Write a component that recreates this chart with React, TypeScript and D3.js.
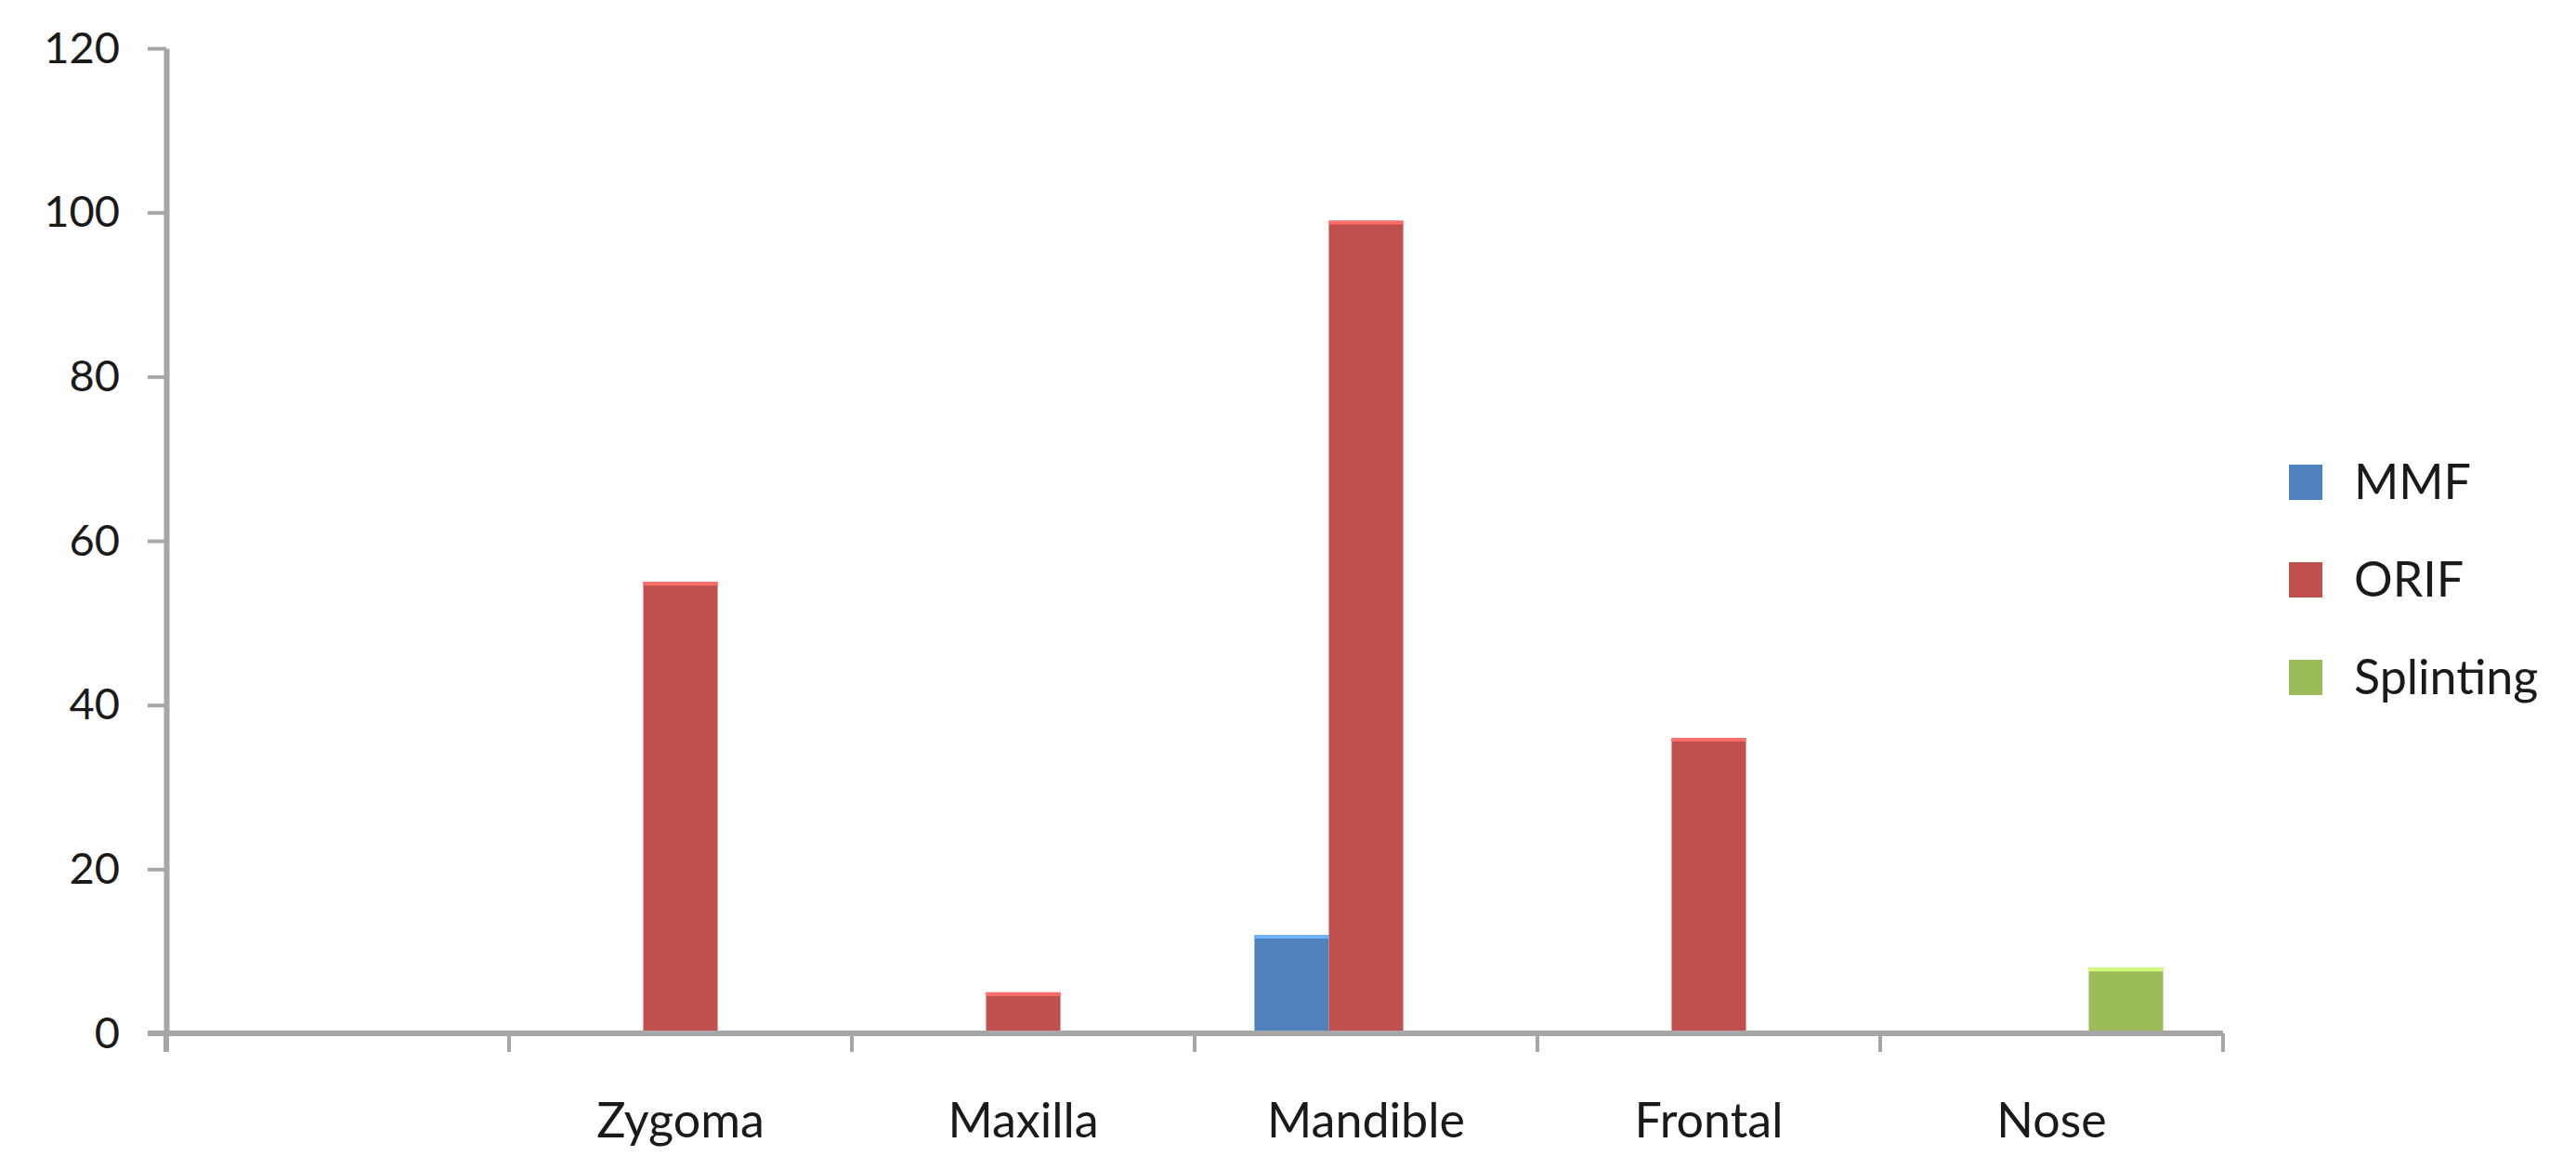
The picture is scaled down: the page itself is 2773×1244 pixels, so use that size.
import React from 'react';
import * as d3 from 'd3';
import { useEffect, useRef } from 'react';

const categories: string[] = ['', 'Zygoma', 'Maxilla', 'Mandible', 'Frontal', 'Nose'];
const seriesNames: string[] = ['MMF', 'ORIF', 'Splinting'];
const mmfValues: number[] = [0, 0, 0, 12, 0, 0];
const orifValues: number[] = [0, 55, 5, 99, 36, 0];
const splintingValues: number[] = [0, 0, 0, 0, 0, 8];
const yTicks: number[] = [0, 20, 40, 60, 80, 100, 120];

const seriesColours: string[] = ['#4F81BD', '#C0504D', '#9BBB59'];

const width = 2773;
const height = 1244;

const App = () => {
    const chartRef = useRef<SVGSVGElement | null>(null);

    useEffect((): void => {
        document.body.style.margin = '0';
        const svg = d3.select(chartRef.current);
        svg.selectAll('*').remove();

        const left = 179;
        const right = 2393;
        const bottom = 1112;
        const top = 52;
        const tickLen = 20;
        const axisColour = '#A6A6A6';
        const font = 'Lato, "Open Sans", sans-serif';

        const allValues = [mmfValues, orifValues, splintingValues];
        const rows = categories.map((c, i) => ({
            category: c,
            values: seriesNames.map((s, j) => ({ series: s, value: allValues[j][i] }))
        }));

        const x0 = d3.scaleBand().domain(categories).range([left, right]).padding(0);
        const bw = x0.bandwidth();
        const step = bw * 0.217;
        const x1 = d3.scaleBand()
            .domain(seriesNames)
            .range([bw / 2 - 1.5 * step, bw / 2 + 1.5 * step])
            .padding(0);
        const y = d3.scaleLinear().domain([0, 120]).range([bottom, top]);
        const colour = d3.scaleOrdinal<string, string>().domain(seriesNames).range(seriesColours);

        // bars
        const groups = svg.append('g')
            .selectAll('g')
            .data(rows)
            .enter()
            .append('g')
            .attr('transform', d => `translate(${x0(d.category)},0)`);

        const bars = groups.selectAll('g.bar')
            .data(d => d.values.filter(v => v.value > 0))
            .enter()
            .append('g')
            .attr('class', 'bar');

        bars.append('rect')
            .attr('x', d => x1(d.series) ?? 0)
            .attr('y', d => y(d.value))
            .attr('width', x1.bandwidth())
            .attr('height', d => bottom - y(d.value))
            .attr('fill', d => colour(d.series));

        bars.append('rect')
            .attr('x', d => x1(d.series) ?? 0)
            .attr('y', d => y(d.value))
            .attr('width', x1.bandwidth())
            .attr('height', 4)
            .attr('fill', d => d3.color(colour(d.series))!.brighter(0.9).formatHex());

        // y axis
        const yAxis = svg.append('g')
            .attr('transform', `translate(${left},0)`)
            .call(d3.axisLeft(y).tickValues(yTicks).tickSize(tickLen).tickSizeOuter(0).tickPadding(30));
        yAxis.select('.domain').attr('stroke', axisColour).attr('stroke-width', 6);
        yAxis.selectAll('.tick line').attr('stroke', axisColour).attr('stroke-width', 4);
        yAxis.selectAll('.tick text')
            .attr('fill', '#1a1a1a')
            .style('font-family', font)
            .style('font-size', '47px');

        // x axis
        const xAxis = svg.append('g');
        xAxis.append('line')
            .attr('x1', left - tickLen)
            .attr('x2', right)
            .attr('y1', bottom)
            .attr('y2', bottom)
            .attr('stroke', axisColour)
            .attr('stroke-width', 6);
        const boundaries = [...categories.map(c => x0(c) ?? 0), right];
        xAxis.selectAll('line.xt')
            .data(boundaries)
            .enter()
            .append('line')
            .attr('class', 'xt')
            .attr('x1', d => d)
            .attr('x2', d => d)
            .attr('y1', bottom)
            .attr('y2', bottom + tickLen)
            .attr('stroke', axisColour)
            .attr('stroke-width', (d, i) => i === 0 ? 6 : 4);
        xAxis.selectAll('text')
            .data(categories)
            .enter()
            .append('text')
            .attr('x', d => (x0(d) ?? 0) + bw / 2)
            .attr('y', 1224)
            .attr('text-anchor', 'middle')
            .attr('fill', '#1a1a1a')
            .style('font-family', font)
            .style('font-size', '52px')
            .text(d => d);

        // legend
        const legend = svg.append('g')
            .selectAll('g')
            .data(seriesNames)
            .enter()
            .append('g')
            .attr('transform', (d, i) => `translate(2464, ${519 + i * 105})`);
        legend.append('rect')
            .attr('x', 0)
            .attr('y', -19)
            .attr('width', 36)
            .attr('height', 38)
            .attr('fill', d => colour(d));
        legend.append('text')
            .attr('x', 70)
            .attr('y', 0)
            .attr('dy', '0.35em')
            .attr('fill', '#1a1a1a')
            .style('font-family', font)
            .style('font-size', '52px')
            .text(d => d);
    }, []);

    return (
        <>
            <svg ref={chartRef} width={width} height={height} style={{ display: 'block', background: '#fff' }}></svg>
        </>
    );
};

export default App;
